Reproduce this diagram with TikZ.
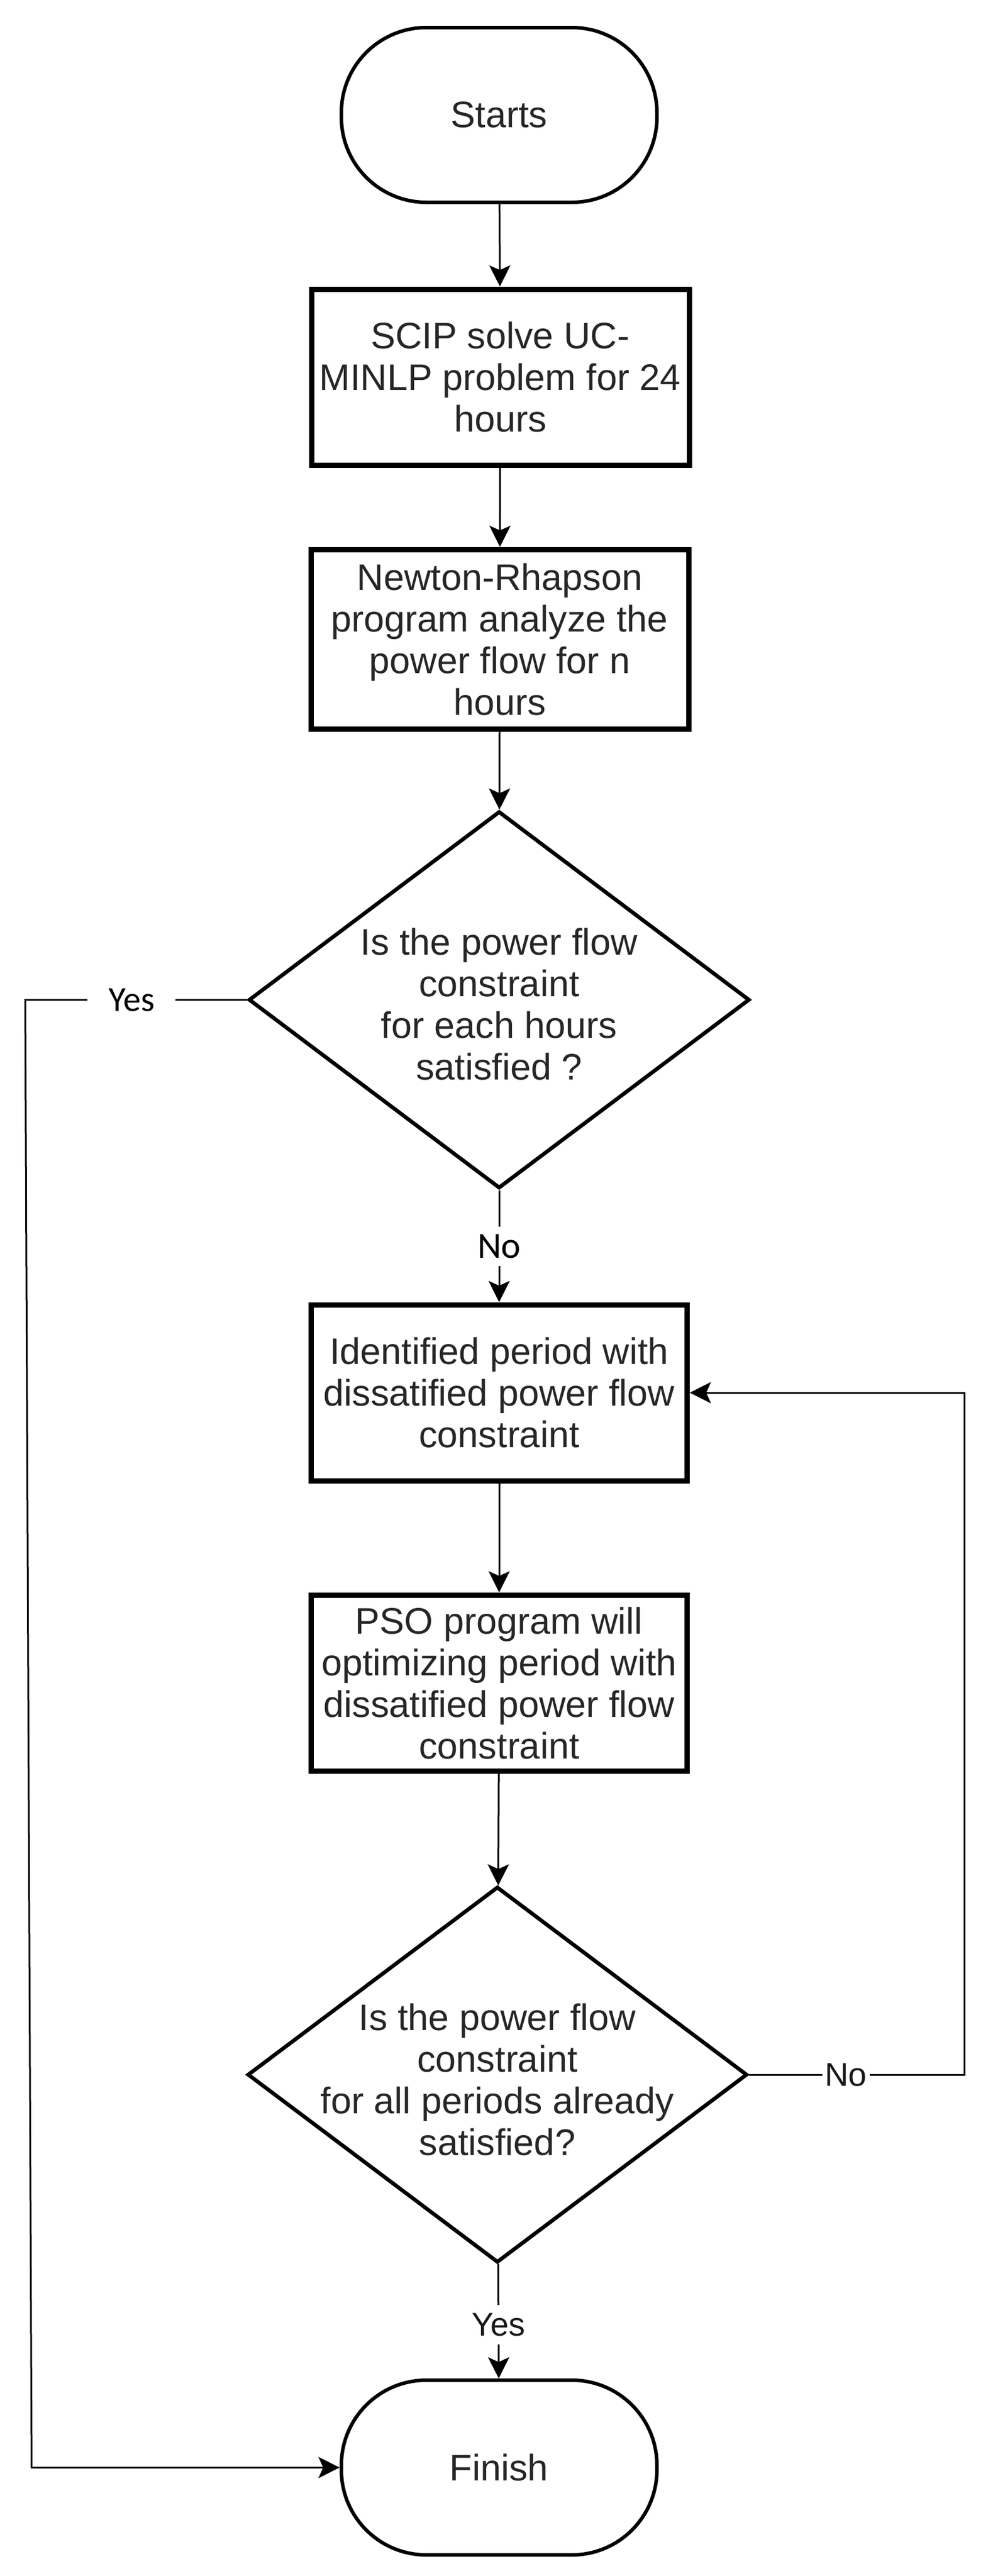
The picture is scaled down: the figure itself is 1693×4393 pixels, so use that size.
\documentclass[tikz,border=0pt]{standalone}
\usepackage{fontspec}
\setmainfont{Liberation Sans}
\newfontfamily\calib{Carlito}
\usetikzlibrary{shapes.geometric,arrows.meta}
\begin{document}
\begin{tikzpicture}[x=1pt,y=-1pt,
  txt/.style={font=\fontsize{63}{71}\selectfont, text=black!85},
  box/.style={draw=black, line width=9pt, rectangle, minimum width=644pt, minimum height=300pt, align=center, inner sep=0pt, txt},
  term/.style={draw=black, line width=6pt, rectangle, rounded corners=145pt, minimum width=538pt, minimum height=298pt, inner sep=0pt, txt},
  dec/.style={draw=black, line width=6.5pt, diamond, minimum width=854pt, minimum height=643pt, inner sep=0pt},
  dtext/.style={align=center, inner sep=0pt, txt},
  conn/.style={draw=black, line width=3pt},
  arr/.style={conn, -{Stealth[length=36pt,width=36pt,inset=8pt]}},
  lblc/.style={fill=white, text=black, font=\calib\fontsize{60}{60}\selectfont, inner xsep=36pt, inner ysep=12pt},
  lbla/.style={fill=white, text=black!90, font=\fontsize{56}{56}\selectfont, inner xsep=5pt, inner ysep=14pt}
]
\useasboundingbox (0,0) rectangle (1693,4393);

\node[term] (start) at (851,196) {Starts};
\node[box] (b1) at (853,643) {SCIP solve UC-\\MINLP problem for 24\\hours};
\node[box, minimum height=306pt] (b2) at (852,1090) {Newton-Rhapson\\program analyze the\\power flow for n\\hours};
\node[dec] (d1) at (851,1705) {};
\node[dtext] (d1t) at (851,1712) {Is the power flow\\constraint\\for each hours\\satisfied ?};
\node[box, minimum width=641pt] (b3) at (851,2375) {Identified period with\\dissatified power flow\\constraint};
\node[box, minimum width=641pt] (b4) at (851,2870) {PSO program will\\optimizing period with\\dissatified power flow\\constraint};
\node[dec, minimum width=852pt, minimum height=641pt] (d2) at (848,3538) {};
\node[dtext] (d2t) at (848,3546) {Is the power flow\\constraint\\for all periods already\\satisfied?};
\node[term] (finish) at (851,4208) {Finish};

\coordinate (lxa) at (43,0);
\coordinate (lxb) at (54,0);
\coordinate (rx) at (1644,0);

\draw[arr] (start) -- (b1);
\draw[arr] (b1) -- (b2);
\draw[arr] (b2) -- (d1);
\draw[arr] (d1) -- node[lblc, font=\calib\fontsize{63}{63}\selectfont, inner xsep=4pt, inner ysep=13pt] {No} (b3);
\draw[arr] (b3) -- (b4);
\draw[arr] (b4) -- (d2);
\draw[arr] (d2) -- node[lbla, pos=0.53] {Yes} (finish);
\draw[arr] (d1.west) -- node[lblc, pos=0.52] {Yes} (d1.west -| lxa) -- (lxb |- finish.west) -- (finish.west);
\draw[arr] (d2.east) -- node[lbla, pos=0.45, inner ysep=2pt] {No} (d2.east -| rx) -- (rx |- b3.east) -- (b3.east);
\end{tikzpicture}
\end{document}
